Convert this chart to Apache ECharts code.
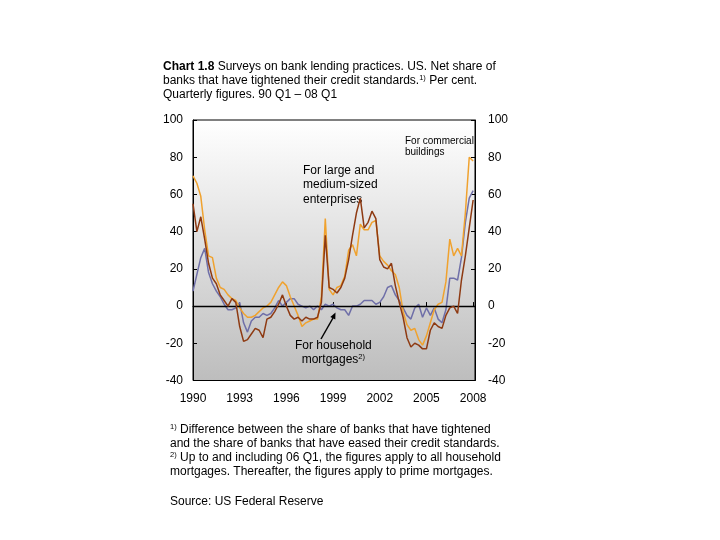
<!DOCTYPE html>
<html>
<head>
<meta charset="utf-8">
<script src="https://cdn.jsdelivr.net/npm/echarts@6/dist/echarts.min.js"></script>
<style>
html,body{margin:0;padding:0;background:#fff;}
#chart{width:720px;height:540px;}
</style>
</head>
<body>
<div id="chart"></div>
<script>
// Quarterly periods 90 Q1 - 08 Q1
var startYear = 1990;
var yearTicks = ['1990','1993','1996','1999','2002','2005','2008'];
var yTicks = [100, 80, 60, 40, 20, 0, -20, -40];

// For large and medium-sized enterprises (per cent)
var largeFirms = [55,40,48,36,23,15,12,6,3,0,4,2,-11,-19,-18,-15,-12,-13,-17,-7,
  -6,-3,1,6,0,-5,-7,-6,-8,-6,-7,-7,-6,2,38,10,9,7,10,15,
  25,38,50,58,42,45,51,47,25,21,20,23,11,2,-6,-17,-22,-20,-21,-23,
  -23,-13,-9,-11,-12,-5,-1,0,-4,14,27,42,57];
// For commercial buildings
var commercial = [70,66,59,41,27,26,15,10,9,6,4,3,-1,-4,-6,-6,-5,-3,-1,0,
  2,6,10,13,11,5,0,-5,-11,-9,-8,-7,-7,5,47,9,6,10,11,16,
  30,33,27,44,41,41,45,46,27,24,22,19,17,10,-3,-10,-13,-12,-18,-21,
  -16,-9,-2,1,2,13,36,27,31,27,50,80,78];
// For household mortgages
var mortgages = [8,17,26,31,18,12,8,5,1,-2,-2,-1,2,-9,-14,-8,-6,-6,-4,-5,
  -4,-1,3,0,2,4,4,1,0,-1,0,-2,0,-2,1,0,1,-1,-2,-2,
  -5,0,0,1,3,3,3,1,2,5,10,11,6,3,-1,-5,-7,-1,1,-6,
  -1,-5,-1,-7,-9,-2,15,15,14,26,45,58,62];

var quarters = [];
for (var i = 0; i < largeFirms.length; i++) {
  var yr = startYear + Math.floor(i / 4);
  quarters.push(String(yr).slice(2) + ' Q' + (i % 4 + 1));
}
function toX(label) {
  var yy = parseInt(label.slice(0, 2), 10);
  var yr = yy >= 50 ? 1900 + yy : 2000 + yy;
  var q = parseInt(label.slice(4), 10);
  return yr + (q - 1) / 4;
}
function pairs(arr) {
  return arr.map(function (v, i) { return [toX(quarters[i]), v]; });
}

var FONT = "'Liberation Sans', Arial, sans-serif";
var chart = echarts.init(document.getElementById('chart'), null, {renderer: 'canvas'});

function yAxisCfg(pos, margin) {
  return {
    type: 'value', position: pos, min: yTicks[yTicks.length - 1], max: yTicks[0], interval: 20,
    axisLine: {show: true, lineStyle: {color: '#000', width: 1}},
    axisTick: {show: true, inside: true, length: 4, lineStyle: {color: '#000'}},
    axisLabel: {color: '#000', fontSize: 12, fontFamily: FONT, margin: margin},
    splitLine: {show: false}
  };
}
var supStyle = {fontSize: 7.5, fontFamily: FONT, verticalAlign: 'top', lineHeight: 14, padding: [0, 0, 4, 0]};

var option = {
  animation: false,
  backgroundColor: '#fff',
  grid: {
    left: 193, right: 245, top: 120, bottom: 159.5,
    show: true, borderColor: '#000', borderWidth: 1,
    backgroundColor: new echarts.graphic.LinearGradient(0, 0, 0, 1, [
      {offset: 0, color: '#ffffff'}, {offset: 1, color: '#bdbdbd'}
    ])
  },
  xAxis: {
    type: 'value', min: 1990, max: 2008.12, interval: 3,
    axisLine: {show: true, lineStyle: {color: '#000'}},
    axisTick: {show: true, inside: true, length: 4, lineStyle: {color: '#000'}},
    axisLabel: {
      color: '#000', fontSize: 12, fontFamily: FONT, margin: 12,
      formatter: function (v) {
        var r = Math.round(v);
        if (Math.abs(v - r) > 1e-6) return '';
        var s = String(r);
        return yearTicks.indexOf(s) >= 0 ? s : '';
      }
    },
    splitLine: {show: false}
  },
  yAxis: [yAxisCfg('left', 10), yAxisCfg('right', 13)],
  series: [
    {
      name: 'For household mortgages', type: 'line', data: pairs(mortgages),
      symbol: 'none', lineStyle: {color: '#6f6fa8', width: 1.5}, z: 3,
      markLine: {
        silent: true, symbol: 'none', label: {show: false},
        lineStyle: {color: '#000', width: 1.3, type: 'solid'},
        data: [{yAxis: 0}]
      }
    },
    {
      name: 'For commercial buildings', type: 'line', data: pairs(commercial),
      symbol: 'none', lineStyle: {color: '#f0a22e', width: 1.5}, z: 4
    },
    {
      name: 'For large and medium-sized enterprises', type: 'line', data: pairs(largeFirms),
      symbol: 'none', lineStyle: {color: '#8e3a12', width: 1.5}, z: 5
    }
  ],
  graphic: [
    {type: 'text', left: 163, top: 60, style: {
      text: '{b|Chart 1.8} Surveys on bank lending practices. US. Net share of\nbanks that have tightened their credit standards.{sup|1)} Per cent.\nQuarterly figures. 90 Q1 – 08 Q1',
      font: '12px ' + FONT, fill: '#000', lineHeight: 14,
      rich: {
        b: {fontWeight: 'bold', fontSize: 12, fontFamily: FONT, lineHeight: 14},
        sup: supStyle
      }
    }},
    {type: 'text', left: 303, top: 163, style: {
      text: 'For large and\nmedium-sized\nenterprises', font: '12px ' + FONT, fill: '#000', lineHeight: 14.5
    }},
    {type: 'text', left: 405, top: 135, style: {
      text: 'For commercial\nbuildings', font: '10px ' + FONT, fill: '#000', lineHeight: 11.5
    }},
    {type: 'text', left: 295, top: 339, style: {
      text: 'For household\n  mortgages{sup|2)}', font: '12px ' + FONT, fill: '#000', lineHeight: 14,
      rich: {sup: supStyle}
    }},
    {type: 'line', shape: {x1: 321, y1: 339, x2: 333, y2: 318}, style: {stroke: '#000', lineWidth: 1.5}},
    {type: 'polygon', shape: {points: [[335.5, 312.5], [335.3, 319.6], [330.3, 317.0]]}, style: {fill: '#000'}},
    {type: 'text', left: 170, top: 423, style: {
      text: '{sup|1)} Difference between the share of banks that have tightened\nand the share of banks that have eased their credit standards.\n{sup|2)} Up to and including 06 Q1, the figures apply to all household\nmortgages. Thereafter, the figures apply to prime mortgages.',
      font: '12px ' + FONT, fill: '#000', lineHeight: 14,
      rich: {sup: supStyle}
    }},
    {type: 'text', left: 170, top: 495, style: {
      text: 'Source: US Federal Reserve', font: '12px ' + FONT, fill: '#000', lineHeight: 14
    }}
  ]
};
chart.setOption(option);
</script>
</body>
</html>
